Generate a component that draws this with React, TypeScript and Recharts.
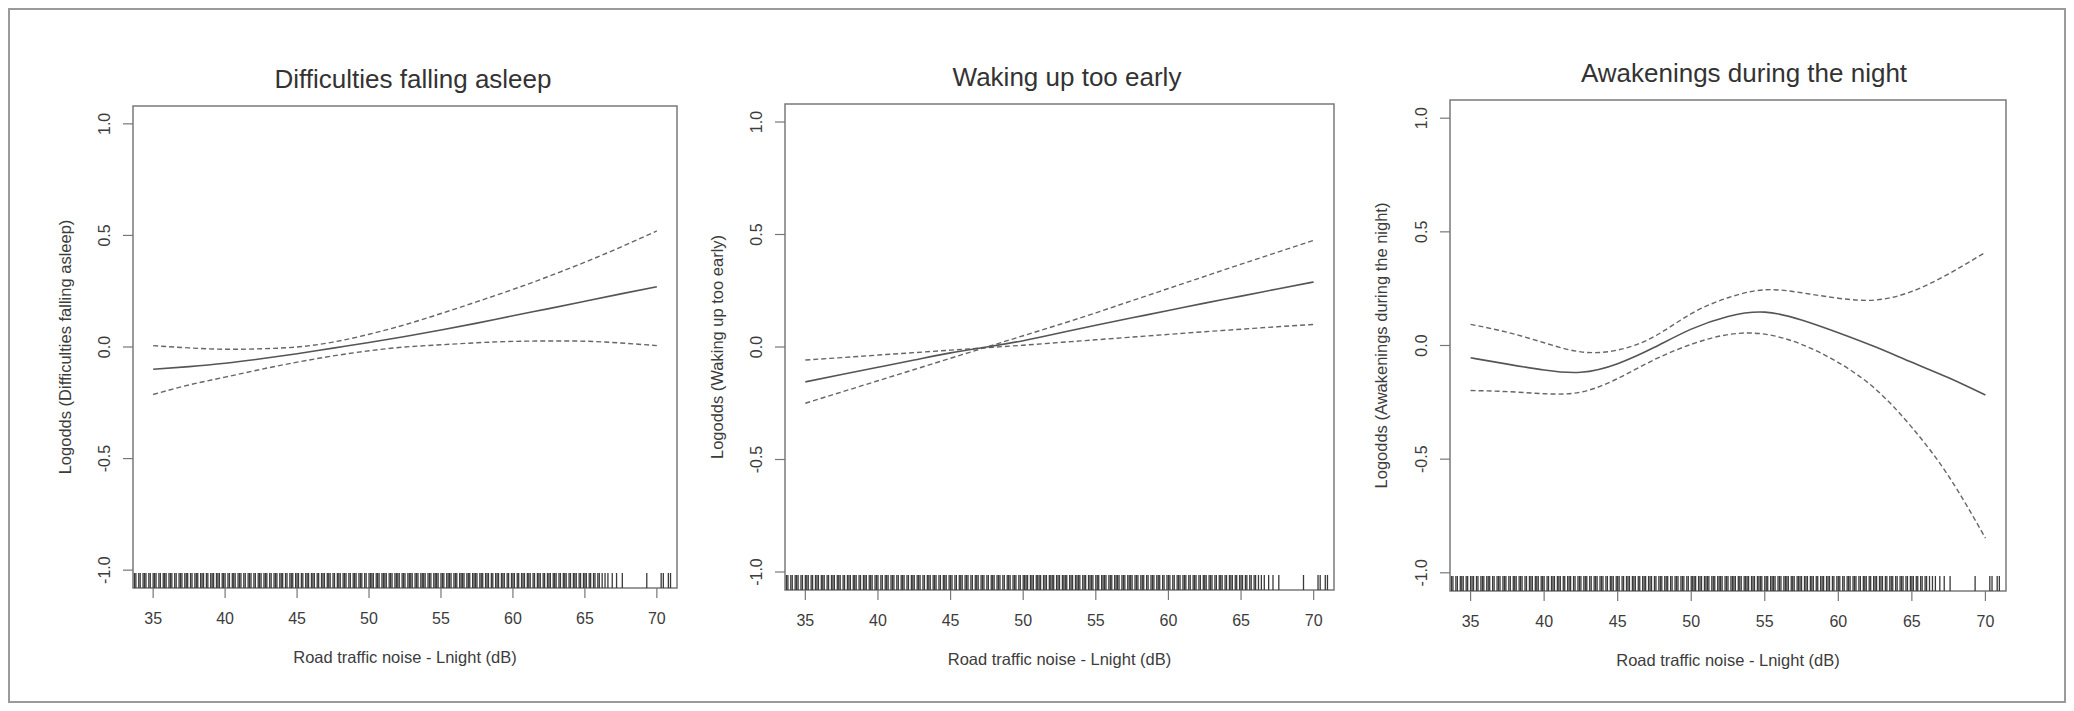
import React from "react";
import { ComposedChart, Line, Scatter, XAxis, YAxis, ReferenceArea } from "recharts";

const FONT = '"Liberation Sans", Arial, Helvetica, sans-serif';
const PAGE_W = 2074;
const PAGE_H = 711;

// road traffic noise, Lnight (dB)
const noiseLevels = [35, 37.5, 40, 42.5, 45, 47.5, 50, 52.5, 55, 57.5, 60, 62.5, 65, 67.5, 70];
const xTicks = [35, 40, 45, 50, 55, 60, 65, 70];
const yTicks = [-1, -0.5, 0, 0.5, 1];
const X_DOMAIN: [number, number] = [33.6, 71.4];
const Y_DOMAIN: [number, number] = [-1.08, 1.08];

// Difficulties falling asleep
const asleepFit = [-0.1, -0.088, -0.073, -0.053, -0.03, -0.005, 0.02, 0.047, 0.076, 0.107, 0.14, 0.172, 0.205, 0.238, 0.27];
const asleepUpper = [0.006, -0.004, -0.01, -0.008, 0.0, 0.022, 0.057, 0.1, 0.15, 0.203, 0.258, 0.317, 0.38, 0.448, 0.52];
const asleepLower = [-0.213, -0.17, -0.135, -0.1, -0.068, -0.04, -0.017, 0.0, 0.01, 0.019, 0.025, 0.027, 0.026, 0.018, 0.006];

// Waking up too early
const earlyFit = [-0.155, -0.122, -0.09, -0.058, -0.026, 0.0, 0.028, 0.062, 0.097, 0.13, 0.162, 0.195, 0.226, 0.258, 0.289];
const earlyUpper = [-0.25, -0.2, -0.15, -0.1, -0.05, 0.0, 0.05, 0.1, 0.152, 0.206, 0.26, 0.314, 0.368, 0.421, 0.474];
const earlyLower = [-0.058, -0.047, -0.036, -0.025, -0.014, -0.003, 0.008, 0.02, 0.032, 0.044, 0.056, 0.068, 0.079, 0.09, 0.1];

// Awakenings during the night
const nightFit = [-0.054, -0.082, -0.108, -0.118, -0.08, -0.008, 0.072, 0.128, 0.147, 0.112, 0.056, -0.006, -0.074, -0.142, -0.218];
const nightUpper = [0.093, 0.058, 0.012, -0.028, -0.02, 0.04, 0.14, 0.21, 0.245, 0.232, 0.208, 0.2, 0.238, 0.315, 0.41];
const nightLower = [-0.198, -0.203, -0.212, -0.205, -0.145, -0.062, 0.005, 0.048, 0.05, 0.005, -0.075, -0.19, -0.36, -0.575, -0.847];

// observed exposure values (rug)
const rugNoise = [
  33.7, 33.8, 34.0, 34.1, 34.3, 34.4, 34.5, 34.7, 34.8, 35.0, 35.1, 35.2, 35.4, 35.5, 35.7, 35.8, 35.9,
  36.1, 36.2, 36.3, 36.5, 36.6, 36.8, 36.9, 37.0, 37.2, 37.3, 37.4, 37.6, 37.7, 37.9, 38.0, 38.1, 38.3,
  38.4, 38.5, 38.7, 38.8, 39.0, 39.1, 39.2, 39.4, 39.5, 39.6, 39.8, 39.9, 40.0, 40.2, 40.3, 40.5, 40.6,
  40.7, 40.9, 41.0, 41.1, 41.3, 41.4, 41.6, 41.7, 41.8, 42.0, 42.1, 42.3, 42.4, 42.5, 42.7, 42.8, 42.9,
  43.1, 43.2, 43.4, 43.5, 43.6, 43.8, 43.9, 44.0, 44.2, 44.3, 44.5, 44.6, 44.7, 44.9, 45.0, 45.1, 45.3,
  45.4, 45.6, 45.7, 45.8, 46.0, 46.1, 46.2, 46.4, 46.5, 46.7, 46.8, 46.9, 47.1, 47.2, 47.3, 47.5, 47.6,
  47.8, 47.9, 48.0, 48.2, 48.3, 48.4, 48.6, 48.7, 48.9, 49.0, 49.1, 49.3, 49.4, 49.5, 49.7, 49.8, 50.0,
  50.1, 50.2, 50.3, 50.5, 50.6, 50.7, 50.9, 51.0, 51.1, 51.2, 51.4, 51.5, 51.6, 51.8, 51.9, 52.0, 52.1,
  52.3, 52.4, 52.5, 52.7, 52.8, 52.9, 53.0, 53.2, 53.3, 53.4, 53.6, 53.7, 53.8, 53.9, 54.1, 54.2, 54.3,
  54.5, 54.6, 54.7, 54.8, 55.0, 55.1, 55.2, 55.4, 55.5, 55.6, 55.7, 55.9, 56.0, 56.1, 56.3, 56.4, 56.5,
  56.6, 56.8, 56.9, 57.0, 57.2, 57.3, 57.4, 57.5, 57.7, 57.8, 57.9, 58.1, 58.2, 58.3, 58.5, 58.6, 58.8,
  58.9, 59.0, 59.2, 59.3, 59.4, 59.6, 59.7, 59.9, 60.0, 60.1, 60.3, 60.4, 60.6, 60.7, 60.8, 61.0, 61.1,
  61.2, 61.4, 61.5, 61.7, 61.8, 61.9, 62.1, 62.2, 62.4, 62.5, 62.6, 62.8, 62.9, 63.0, 63.2, 63.3, 63.5,
  63.6, 63.7, 63.9, 64.0, 64.2, 64.3, 64.4, 64.6, 64.7, 64.9, 65.0, 65.1, 65.3, 65.4, 65.6, 65.7, 65.9,
  66.0, 66.2, 66.4, 66.6, 66.9, 67.2, 67.6, 69.3, 70.3, 70.45, 70.8, 70.95,
];

type Panel = {
  title: string;
  yLabel: string;
  fit: number[];
  upper: number[];
  lower: number[];
  left: number; // page x of the svg
  width: number;
  boxLeft: number; // page coords of the plot box
  boxRight: number;
  boxTop: number;
  boxBottom: number;
  titleX: number;
  yLabelX: number;
};

const panels: Panel[] = [
  {
    title: "Difficulties falling asleep",
    yLabel: "Logodds (Difficulties falling asleep)",
    fit: asleepFit, upper: asleepUpper, lower: asleepLower,
    left: 0, width: 700, boxLeft: 133, boxRight: 677, boxTop: 106, boxBottom: 588,
    titleX: 413, yLabelX: 65,
  },
  {
    title: "Waking up too early",
    yLabel: "Logodds (Waking up too early)",
    fit: earlyFit, upper: earlyUpper, lower: earlyLower,
    left: 690, width: 680, boxLeft: 785, boxRight: 1334, boxTop: 104, boxBottom: 590,
    titleX: 1067, yLabelX: 717,
  },
  {
    title: "Awakenings during the night",
    yLabel: "Logodds (Awakenings during the night)",
    fit: nightFit, upper: nightUpper, lower: nightLower,
    left: 1370, width: 704, boxLeft: 1450, boxRight: 2006, boxTop: 100, boxBottom: 591,
    titleX: 1744, yLabelX: 1381,
  },
];

const XAXIS_H = 90;
const TEXT = "#3c3c3c";

const YTick = ({ x, y, payload }: any) => (
  <text
    x={x}
    y={y}
    transform={`rotate(-90, ${x}, ${y})`}
    textAnchor="middle"
    fontSize={16}
    fontFamily={FONT}
    fill={TEXT}
  >
    {Number(payload.value).toFixed(1)}
  </text>
);

const RugMark = (p: any) => (
  <line x1={p.cx} x2={p.cx} y1={p.cy} y2={p.cy - 15} stroke="#3a3a3a" strokeWidth={1.3} />
);

function PanelChart({ panel }: { panel: Panel }) {
  const data = noiseLevels.map((x, i) => ({
    x,
    fit: panel.fit[i],
    upper: panel.upper[i],
    lower: panel.lower[i],
  }));
  const rugData = rugNoise.map((x) => ({ x, y: Y_DOMAIN[0] }));
  const yAxisW = panel.boxLeft - panel.left;
  const margin = {
    top: panel.boxTop,
    right: panel.left + panel.width - panel.boxRight,
    bottom: PAGE_H - panel.boxBottom - XAXIS_H,
    left: 0,
  };
  const boxCx = (panel.boxLeft + panel.boxRight) / 2 - panel.left;
  const boxCy = (panel.boxTop + panel.boxBottom) / 2;
  const yLabX = panel.yLabelX - panel.left + 6;

  return (
    <div style={{ position: "absolute", left: panel.left, top: 0 }}>
      <ComposedChart width={panel.width} height={PAGE_H} data={data} margin={margin}>
        <XAxis
          dataKey="x"
          type="number"
          domain={X_DOMAIN}
          allowDataOverflow
          ticks={xTicks}
          interval={0}
          height={XAXIS_H}
          axisLine={false}
          tickLine={{ stroke: "#777", strokeWidth: 1.2 }}
          tickSize={10}
          tickMargin={15}
          tick={{ fontSize: 16, fontFamily: FONT, fill: TEXT }}
          label={(props: any) => (
            <text
              x={boxCx}
              y={panel.boxBottom + 75}
              textAnchor="middle"
              fontSize={16.5}
              fontFamily={FONT}
              fill={TEXT}
            >
              Road traffic noise - Lnight (dB)
            </text>
          )}
        />
        <YAxis
          type="number"
          domain={Y_DOMAIN}
          allowDataOverflow
          ticks={yTicks}
          interval={0}
          width={yAxisW}
          axisLine={false}
          tickLine={{ stroke: "#777", strokeWidth: 1.2 }}
          tickSize={10}
          tickMargin={13}
          tick={<YTick />}
          label={(props: any) => (
            <text
              x={yLabX}
              y={boxCy}
              transform={`rotate(-90, ${yLabX}, ${boxCy})`}
              textAnchor="middle"
              fontSize={16.5}
              fontFamily={FONT}
              fill={TEXT}
            >
              {panel.yLabel}
            </text>
          )}
        />
        <ReferenceArea
          x1={X_DOMAIN[0]}
          x2={X_DOMAIN[1]}
          y1={Y_DOMAIN[0]}
          y2={Y_DOMAIN[1]}
          fill="none"
          fillOpacity={0}
          stroke="#7a7a7a"
          strokeWidth={1.5}
          ifOverflow="visible"
          label={(props: any) => (
            <text
              x={panel.titleX - panel.left}
              y={panel.boxTop - 18}
              textAnchor="middle"
              fontSize={26}
              fontFamily={FONT}
              fill="#333"
            >
              {panel.title}
            </text>
          )}
        />
        <Scatter data={rugData} dataKey="y" shape={<RugMark />} isAnimationActive={false} />
        <Line
          type="natural"
          dataKey="upper"
          stroke="#666"
          strokeWidth={1.4}
          strokeDasharray="5 3"
          dot={false}
          isAnimationActive={false}
        />
        <Line
          type="natural"
          dataKey="lower"
          stroke="#666"
          strokeWidth={1.4}
          strokeDasharray="5 3"
          dot={false}
          isAnimationActive={false}
        />
        <Line
          type="natural"
          dataKey="fit"
          stroke="#555"
          strokeWidth={1.6}
          dot={false}
          isAnimationActive={false}
        />
      </ComposedChart>
    </div>
  );
}

export default function App() {
  return (
    <div
      style={{
        position: "absolute",
        left: 0,
        top: 0,
        width: PAGE_W,
        height: PAGE_H,
        background: "#fff",
        overflow: "hidden",
      }}
    >
      <div
        style={{
          position: "absolute",
          left: 8,
          top: 8,
          width: 2058,
          height: 695,
          border: "2px solid #9a9a9a",
          boxSizing: "border-box",
        }}
      />
      {panels.map((p) => (
        <PanelChart key={p.title} panel={p} />
      ))}
    </div>
  );
}
